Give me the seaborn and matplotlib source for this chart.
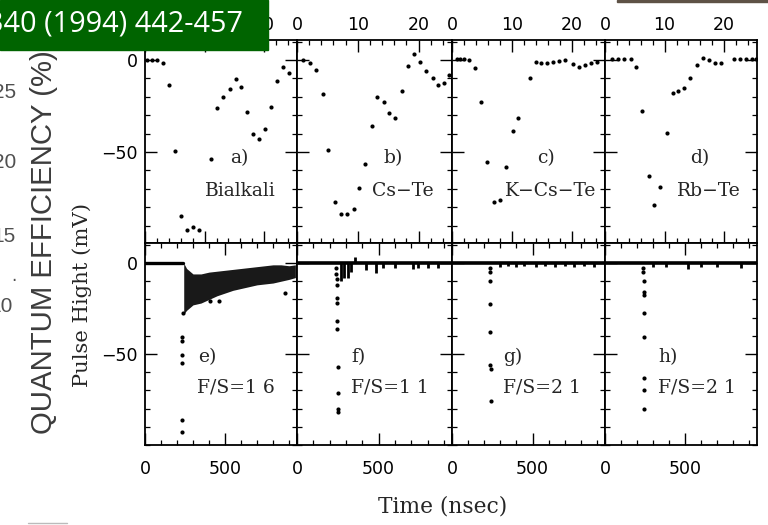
import matplotlib
matplotlib.use("Agg")
import matplotlib.pyplot as plt
import seaborn as sns
import pandas as pd
from matplotlib.patches import Rectangle
from matplotlib.ticker import MultipleLocator, FixedLocator

# ---------------- data ----------------
top_tags = ["a)", "b)", "c)", "d)"]
top_names = ["Bialkali", "Cs\u2212Te", "K\u2212Cs\u2212Te", "Rb\u2212Te"]
bot_tags = ["e)", "f)", "g)", "h)"]
bot_names = ["F/S=1 6", "F/S=1 1", "F/S=2 1", "F/S=2 1"]
top_xticks = [0, 10, 20]
bot_xticks = [0, 500]
y_ticks = [0, -50]

a_x = [0.3, 1.1, 2.0, 3.0, 4.0, 5.1, 6.1, 7.0, 8.1, 9.1, 11.1, 12.1, 13.1, 14.2,
       15.2, 16.1, 17.1, 18.2, 19.2, 20.2, 21.2, 22.2, 23.2, 24.2]
a_y = [0, 0, 0, -1.8, -13.6, -49.3, -85, -92.4, -91, -92.4, -54, -26, -20, -16,
       -10.5, -14.8, -28.4, -40, -43, -37.7, -25.4, -11.2, -4, -6.9]
b_x = [1.0, 2.1, 3.1, 4.2, 5.1, 6.2, 7.2, 8.3, 9.3, 10.2, 11.2, 12.3, 13.2, 14.3,
       15.2, 16.2, 17.2, 18.2, 19.2, 20.2, 21.2, 22.3, 23.2, 24.2, 25.0]
b_y = [0, -1.8, -5.4, -18.6, -48.9, -77.3, -83.9, -83.9, -81, -69.7, -56.5, -35.9,
       -19.9, -23, -29, -31.4, -16.8, -3.3, 3.3, -0.9, -5.8, -9.6, -13.6, -12.3, -8]
c_x = [0.8, 1.4, 2.0, 2.9, 3.9, 4.8, 5.9, 7.0, 8.0, 9.0, 10.1, 11.0, 13.0, 14.0,
       14.9, 15.9, 16.9, 17.9, 18.9, 20.1, 21.1, 22.2, 23.2, 24.1]
c_y = [0.5, 0.5, 0.5, 0, -4.5, -22.6, -55.6, -77, -76, -58, -38.6, -31.4, -10, -0.9,
       -1.8, -1.8, -1.1, -0.4, -0.2, -2.2, -3.6, -2.9, -1.6, -0.9]
d_x = [1.2, 2.1, 3.2, 4.3, 5.2, 6.2, 7.3, 8.3, 9.3, 10.4, 11.4, 12.3, 13.3, 14.3,
       15.4, 16.4, 17.4, 18.4, 19.5, 21.6, 22.6, 23.6, 24.6, 25.3]
d_y = [0.5, 0.5, 0.5, 0.3, -4, -27.7, -63, -79, -69, -39.8, -18, -16.7, -15.4, -9.6,
       -2.9, 0.9, 0, -1.5, -1.5, 0.4, 0.7, 0.7, 0.7, 0.7]

# bottom row (time in nsec, pulse height in mV)
e_base_x = [0, 240]
e_base_y = [0, 0]
e_band_x = [242, 260, 300, 350, 400, 450, 500, 550, 600, 650, 700, 750, 800, 850, 900, 940]
e_band_hi = [0, -3, -6, -6, -5, -4.5, -4, -3.5, -3, -2.5, -2, -1.5, -1, -1, -1.5, -1]
e_band_lo = [-28, -26, -23, -22, -20, -18, -16.5, -15, -14, -13, -12, -11.5, -11, -10, -9, -8]
e_dot_x = [229, 229, 230, 230, 231, 231, 240, 406, 463, 875]
e_dot_y = [-40.5, -42.7, -50.5, -54.8, -86, -92.7, -27.5, -21, -21, -16.5]

base_x = [0, 950]
base_y = [0, 0]
f_dot_x = [240, 242, 244, 244, 246, 246, 248, 248, 250, 250, 252, 252]
f_dot_y = [-3, -6, -9, -12, -19, -22, -32, -36, -57, -71.5, -80, -82]
f_spk_x = [270, 290, 310, 330, 420, 485, 527, 600, 710, 740, 800, 865]
f_spk_y = [-10, -8, -8, -5, -4, -5.5, -3, -2.5, -3.5, -2.5, -3, -2.5]
g_dot_x = [237, 237, 238, 238, 239, 239, 240, 240]
g_dot_y = [-3, -5, -10, -22.5, -38, -56, -58, -76]
g_spk_x = [300, 350, 400, 450, 520, 580, 640, 700, 760, 820, 880]
g_spk_y = [-2, -1.5, -2, -1.5, -2, -1.5, -2, -1.5, -2, -1.5, -2]
h_dot_x = [240, 240, 241, 241, 242, 242, 243, 243, 244, 244]
h_dot_y = [-3, -5, -9.7, -16, -17.6, -27.6, -40.5, -63, -70, -80]
h_spk_x = [300, 380, 520, 600, 700, 850]
h_spk_y = [-2, -2, -3.5, -2, -2, -2.5]

# ---------------- style ----------------
sns.set_style("ticks")
plt.rcParams['font.family'] = ['DejaVu Sans']
plt.rcParams['axes.linewidth'] = 1.3

W, H = 768, 525
fig = plt.figure(figsize=(W / 100, H / 100), dpi=100)
edges = [145, 297, 452, 605, 757]


def add_ax(x0, x1, y0, y1):
    return fig.add_axes([x0 / W, 1 - y1 / H, (x1 - x0) / W, (y1 - y0) / H])


def style(ax, top_row, first):
    ax.set_facecolor("white")
    for s in ax.spines.values():
        s.set_color("black")
        s.set_linewidth(1.3)
    ax.yaxis.set_major_locator(FixedLocator(y_ticks))
    ax.yaxis.set_minor_locator(MultipleLocator(10))
    ax.tick_params(which="both", direction="in", top=True, bottom=True,
                   left=True, right=True, colors="black", labelsize=12.5)
    ax.tick_params(which="major", length=8.5, width=1.0)
    ax.tick_params(which="minor", length=3.5, width=0.9)
    ax.tick_params(axis="y", labelleft=first, pad=5)
    if top_row:
        ax.xaxis.set_major_locator(FixedLocator(top_xticks))
        ax.xaxis.set_minor_locator(MultipleLocator(2))
        ax.tick_params(axis="x", labeltop=True, labelbottom=False, pad=4)
        if first:
            # the first two labels lie under the banner in the reference
            ax.set_xticklabels(["", "", str(top_xticks[2])])
    else:
        ax.xaxis.set_major_locator(FixedLocator(bot_xticks))
        ax.xaxis.set_minor_locator(MultipleLocator(100))
        ax.tick_params(axis="x", labeltop=False, labelbottom=True, pad=11)
    ax.set_xlabel("")
    ax.set_ylabel("")


top_data = [(a_x, a_y), (b_x, b_y), (c_x, c_y), (d_x, d_y)]
for i, (xs, ys) in enumerate(top_data):
    ax = add_ax(edges[i], edges[i + 1], 40, 243)
    df = pd.DataFrame({"x": xs, "y": ys})
    sns.scatterplot(data=df, x="x", y="y", ax=ax, color="black", s=9,
                    linewidth=0, legend=False)
    ax.set_xlim(0, 25.5)
    ax.set_ylim(-99.5, 10.9)
    style(ax, True, i == 0)

bot_axes = []
for i in range(4):
    ax = add_ax(edges[i], edges[i + 1], 243, 445)
    ax.set_xlim(0, 950)
    ax.set_ylim(-100, 11)
    bot_axes.append(ax)

# e
ax = bot_axes[0]
sns.lineplot(x=e_base_x, y=e_base_y, ax=ax, color="black", lw=2.4)
ax.fill_between(e_band_x, e_band_lo, e_band_hi, color="black", alpha=0.9, lw=0)
sns.scatterplot(x=e_dot_x, y=e_dot_y, ax=ax, color="black", s=9, linewidth=0)
# f, g, h
for ax, dx, dy, sx, sy in [(bot_axes[1], f_dot_x, f_dot_y, f_spk_x, f_spk_y),
                           (bot_axes[2], g_dot_x, g_dot_y, g_spk_x, g_spk_y),
                           (bot_axes[3], h_dot_x, h_dot_y, h_spk_x, h_spk_y)]:
    sns.lineplot(x=base_x, y=base_y, ax=ax, color="black", lw=2.6)
    ax.vlines(sx, 0, sy, color="black", lw=2.0)
    sns.scatterplot(x=dx, y=dy, ax=ax, color="black", s=9, linewidth=0)
bot_axes[1].vlines([356], 0, [3.5], color="black", lw=2.0)

for i, ax in enumerate(bot_axes):
    ax.set_xlim(0, 950)
    ax.set_ylim(-100, 11)
    style(ax, False, i == 0)

# ---------------- overlay (pixel coordinates) ----------------
ov = fig.add_axes([0, 0, 1, 1], zorder=10)
ov.set_xlim(0, W)
ov.set_ylim(H, 0)
ov.axis("off")
ov.patch.set_alpha(0)

serif = "DejaVu Serif"
lab_fs = 13.5
for tag, name, x1, x2 in zip(top_tags, top_names, [230, 383, 537, 690], [205, 372, 505, 677]):
    ov.text(x1, 158, tag, fontsize=lab_fs, family=serif, va="center", ha="left")
    ov.text(x2, 191, name, fontsize=lab_fs, family=serif, va="center", ha="left")
for tag, name, x1, x2 in zip(bot_tags, bot_names, [198, 351, 503, 658], [197, 351, 503, 658]):
    ov.text(x1, 357, tag, fontsize=lab_fs, family=serif, va="center", ha="left")
    ov.text(x2, 387, name, fontsize=lab_fs, family=serif, va="center", ha="left")

t_time = ov.text(443, 507, "Time (nsec)", fontsize=12.5, family=serif,
                 va="center", ha="center")
t_pulse = ov.text(82, 295, "Pulse Hight (mV)", fontsize=12.5, family=serif,
                  va="center", ha="center", rotation=90)
t_qe = ov.text(44, 242, "QUANTUM EFFICIENCY (%)", fontsize=24,
               family=["Liberation Sans Narrow", "Liberation Sans", "DejaVu Sans"],
               color="#3c3c3c", va="center", ha="center", rotation=90, zorder=1)

for s, yy, xr in [("25", 92, 16), ("20", 163, 16), ("15", 236, 16), ("10", 307, 13)]:
    ov.text(xr, yy, s, fontsize=15, family="Liberation Sans", color="#505050",
            va="center", ha="right", zorder=1)
ov.text(14, 276, ".", fontsize=12, color="#505050", ha="center", va="center")

ov.add_patch(Rectangle((0, 0), 268, 50, color="#006400", zorder=5))
ov.text(243, 24, "340 (1994) 442-457", fontsize=20.8, family="Open Sans",
        color="white", va="center", ha="right", zorder=6)
ov.add_patch(Rectangle((617, 0), 151, 2, color="#5e5246", zorder=5))
ov.plot([28, 67], [523, 523], color="#bbbbbb", lw=1)

# fit the long labels to their measured extent in the reference
fig.canvas.draw()
r = fig.canvas.get_renderer()
for t, target in [(t_qe, 385), (t_pulse, 184), (t_time, 129)]:
    bb = t.get_window_extent(r)
    t.set_fontsize(t.get_fontsize() * target / max(bb.width, bb.height))

fig.savefig("out.png", dpi=100)
